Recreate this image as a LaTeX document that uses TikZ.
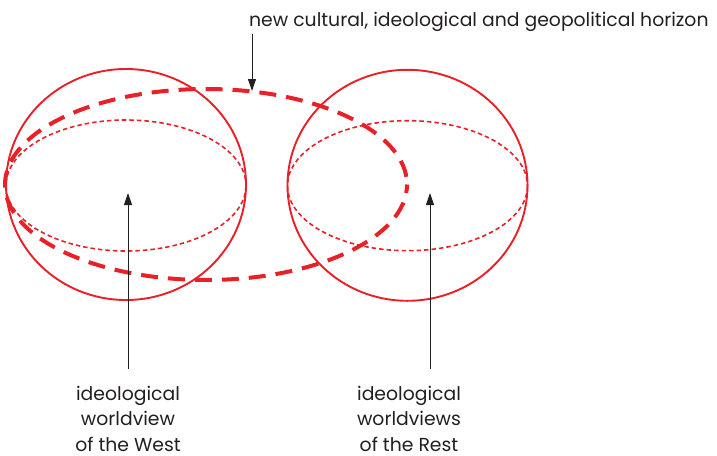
\documentclass[tikz,border=0pt]{standalone}
\usepackage{fontspec}
\setmainfont{Poppins}
\usetikzlibrary{arrows.meta}
\definecolor{cred}{RGB}{232,32,40}
\definecolor{ink}{RGB}{35,31,32}
\begin{document}
\begin{tikzpicture}[x=1pt,y=-1pt,
  sphere/.style={draw=cred,line width=1.9pt},
  equator/.style={draw=cred,line width=1.6pt,dash pattern=on 4.5pt off 3pt},
  horizon/.style={draw=cred,line width=4pt,dash pattern=on 17pt off 10pt,dash phase=8.5pt},
  pointer/.style={draw=ink,line width=0.9pt,-{Triangle[length=12pt,width=8pt]}},
  caption/.style={text=ink,font=\fontsize{18.8}{25.5}\selectfont,align=center,inner sep=0pt}]
\useasboundingbox (0,0) rectangle (717,455);
% spheres
\draw[sphere] (126,184.5) circle[x radius=120,y radius=115.5];
\draw[sphere] (407.5,185.3) circle[x radius=120,y radius=115.5];
% equators
\draw[equator] (126,185.5) circle[x radius=120,y radius=65.5];
\draw[equator] (407.5,185.7) circle[x radius=120,y radius=65];
% horizon
\draw[horizon] (206,184.5) circle[x radius=201,y radius=95.5];
% labels
\node[caption,anchor=base west] (title) at (249,27) {new cultural, ideological and geopolitical horizon};
\node[caption,anchor=north] (west) at (128,385.5) {ideological\\worldview\\of the West};
\node[caption,anchor=north] (rest) at (409,385.5) {ideological\\worldviews\\of the Rest};
% pointers
\coordinate (htip) at (252,91);
\coordinate (wtip) at (128,193);
\coordinate (rtip) at (430,193);
\draw[pointer] (htip |- title.south) ++(0,2) -- (htip);
\draw[pointer] (wtip |- west.north) ++(0,-17) -- (wtip);
\draw[pointer] (rtip |- rest.north) ++(0,-17) -- (rtip);
\end{tikzpicture}
\end{document}
